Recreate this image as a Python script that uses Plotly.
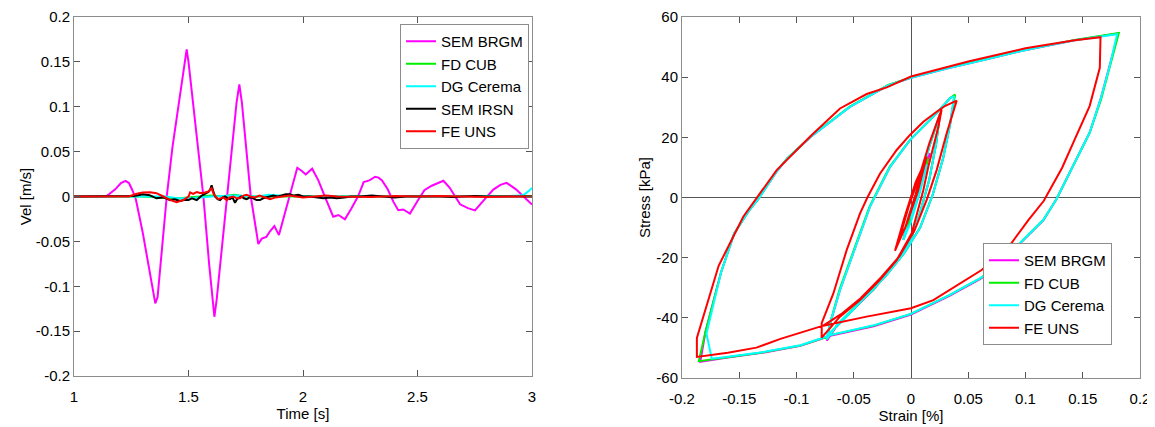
import plotly.graph_objects as go

# ---------------- Left panel: velocity time histories ----------------
T_BRGM = [1.0, 1.14, 1.18, 1.205, 1.225, 1.24, 1.255, 1.27, 1.30, 1.33, 1.355, 1.365, 1.38, 1.405, 1.43, 1.46,
          1.492, 1.50, 1.53, 1.565, 1.59, 1.613, 1.623, 1.667, 1.71, 1.722, 1.733, 1.772, 1.805, 1.82, 1.84,
          1.855, 1.875, 1.895, 1.92, 1.958, 1.975, 1.995, 2.012, 2.04, 2.067, 2.10, 2.132, 2.155, 2.183, 2.21,
          2.24, 2.265, 2.29, 2.315, 2.33, 2.345, 2.37, 2.395, 2.416, 2.438, 2.467, 2.50, 2.53, 2.562, 2.59,
          2.613, 2.64, 2.686, 2.72, 2.751, 2.79, 2.831, 2.862, 2.889, 2.93, 2.975, 3.0]
V_BRGM = [0, 0, 0.008, 0.015, 0.0175, 0.015, 0.007, -0.003, -0.04, -0.085, -0.119, -0.112, -0.07, 0.0, 0.055, 0.107,
          0.164, 0.15, 0.08, 0.0, -0.075, -0.134, -0.115, 0.0, 0.105, 0.125, 0.105, 0.0, -0.053, -0.047, -0.045,
          -0.039, -0.033, -0.043, -0.02, 0.018, 0.032, 0.0285, 0.0245, 0.031, 0.018, -0.003, -0.0225, -0.0206, -0.0254, -0.014,
          0.0, 0.016, 0.018, 0.022, 0.021, 0.018, 0.008, -0.006, -0.0153, -0.0145, -0.019, -0.005, 0.007, 0.012, 0.0155,
          0.0175, 0.01, -0.0087, -0.013, -0.0155, -0.004, 0.0077, 0.013, 0.0152, 0.008, -0.003, -0.009]

T_CUB = [1.0, 1.3, 1.38, 1.42, 1.46, 1.5, 1.55, 1.6, 1.65, 1.7, 1.72, 1.75, 1.8, 2.0, 2.5, 3.0]
V_CUB = [0, 0, -0.001, -0.002, -0.002, -0.001, 0, 0.001, 0, 0.002, 0.001, 0, 0, 0, 0, 0.0005]

T_CEREMA = [1.0, 1.4, 1.45, 1.5, 1.55, 1.6, 1.7, 1.8, 1.85, 1.9, 2.0, 2.5, 2.9, 2.95, 2.97, 2.985, 3.0]
V_CEREMA = [0, 0, -0.002, -0.002, -0.001, 0, 0.001, 0, 0.002, 0.001, 0, 0, 0.0005, 0.001, 0.003, 0.006, 0.0095]

T_IRSN = [1.0, 1.20, 1.26, 1.28, 1.30, 1.33, 1.36, 1.39, 1.42, 1.44, 1.463, 1.48, 1.50, 1.515, 1.536, 1.558,
          1.575, 1.587, 1.595, 1.601, 1.608, 1.616, 1.627, 1.638, 1.65, 1.66, 1.671, 1.681, 1.692, 1.703, 1.712,
          1.718, 1.73, 1.742, 1.754, 1.768, 1.783, 1.797, 1.812, 1.826, 1.841, 1.856, 1.870, 1.89, 1.91, 1.925,
          1.943, 1.96, 1.98, 2.0, 2.03, 2.06, 2.089, 2.12, 2.147, 2.18, 2.21, 2.25, 2.3, 2.35, 2.4, 2.45, 2.5,
          2.55, 2.6, 2.65, 2.7, 2.75, 2.8, 2.85, 2.9, 2.95, 3.0]
V_IRSN = [0, 0, 0.0005, 0.0015, 0.0026, 0.0015, -0.002, -0.001, -0.004, -0.003, -0.005, -0.004, -0.004, -0.002, -0.004, 0.001,
          0.003, 0.005, 0.008, 0.0125, 0.006, 0.0, -0.003, -0.004, -0.001, 0.0, -0.002, -0.003, -0.001, -0.007, -0.003,
          -0.002, 0.0, -0.002, -0.003, -0.001, -0.002, -0.004, -0.004, -0.002, -0.001, 0.0, 0.001, 0.0, 0.001, 0.0025,
          0.0025, 0.001, 0.002, 0.0, 0.0, -0.001, -0.002, -0.001, -0.002, -0.001, 0.0, 0.0, 0.001, 0.0, -0.001, 0.0, 0.0,
          0.0005, 0.0, -0.0005, 0.0, 0.0005, 0.0, 0.0, 0.0005, 0.0, 0.0]

T_UNS = [1.0, 1.24, 1.274, 1.30, 1.332, 1.36, 1.39, 1.419, 1.448, 1.477, 1.50, 1.507, 1.52, 1.536, 1.55,
         1.565, 1.587, 1.601, 1.611, 1.63, 1.652, 1.667, 1.68, 1.696, 1.71, 1.725, 1.74, 1.754, 1.77, 1.79,
         1.81, 1.83, 1.856, 1.88, 1.91, 1.94, 1.97, 2.0, 2.05, 2.1, 2.15, 2.2, 2.3, 2.4, 2.5, 2.6, 2.7, 2.8, 2.9, 3.0]
V_UNS = [0, 0, 0.003, 0.0045, 0.0048, 0.0037, 0.0, -0.0037, -0.0063, -0.004, 0.0, 0.0045, 0.003, 0.005, 0.004,
         0.004, 0.0055, 0.009, 0.002, -0.003, -0.001, -0.004, -0.001, 0.0, -0.002, -0.002, 0.001, 0.002, 0.0, -0.001,
         0.001, -0.001, -0.003, -0.001, 0.0, 0.001, 0.0, -0.001, 0.0, 0.001, 0.0, 0.0, -0.0005, 0.0005, 0.0, 0.0005,
         0.0, -0.0005, 0.0, 0.0]

# ---------------- Right panel: stress-strain loops ----------------
E_BRGM = [0, 0.008, 0.0166, 0.008, 0.0, -0.0067, -0.002, 0.006, 0.012, 0.006, 0.0, 0.008, 0.016, 0.025,
          0.022, 0.016, 0.008, 0.0, -0.0134, -0.0326, -0.0518, -0.064, -0.0735,
          -0.0705, -0.062, -0.0504, -0.0358, -0.0183, -0.0009, 0.0195, 0.034, 0.038,
          0.034, 0.028, 0.019, 0.008, -0.006, -0.022, -0.042, -0.06, -0.0735,
          -0.05, -0.0326, 0.0, 0.034, 0.0603, 0.0777, 0.095, 0.1155, 0.127, 0.143, 0.156, 0.1655, 0.1735, 0.181,
          0.143, 0.114, 0.0952, 0.0633, 0.0313, 0.0, -0.0198, -0.0534, -0.0865, -0.108, -0.117, -0.133, -0.142,
          -0.1545, -0.166, -0.1796, -0.184,
          -0.16, -0.128, -0.0965, -0.0735]
S_BRGM = [0, 7, 14.7, 4, -6, -14.1, -7, 3, 9, 0, -7, 6, 17, 27.5,
          18, 6, -5, -13.8, -21.6, -30.6, -37.7, -42.2, -47.6,
          -41.8, -30.7, -18.6, -3, 10.2, 19.1, 26.9, 33, 33.9,
          24, 13, 1, -10, -18.5, -26, -34, -41, -46.2,
          -44.3, -42.8, -38.9, -32.6, -27.1, -22.6, -15.4, -7.6, -0.6, 11.6, 21.5, 32.6, 43.6, 54.5,
          52.3, 50.1, 48.6, 45.7, 42.9, 39.8, 37.3, 30.1, 20.5, 13, 8.8, -0.3, -4.6,
          -12, -25, -44.8, -54.6,
          -53.2, -51.5, -49.3, -46.4]

E_CUB = [0, 0.008, 0.015, 0.008, 0.0, -0.0067, -0.002, 0.006, 0.012, 0.006, 0.0, 0.008, 0.016, 0.0255,
         0.022, 0.016, 0.008, 0.0, -0.0134, -0.0326, -0.0518, -0.064, -0.0737,
         -0.0707, -0.0625, -0.051, -0.0362, -0.0186, -0.001, 0.0195, 0.034, 0.0385,
         0.034, 0.028, 0.019, 0.008, -0.006, -0.022, -0.042, -0.06, -0.0737,
         -0.05, -0.0326, 0.0, 0.034, 0.0603, 0.0777, 0.095, 0.1155, 0.127, 0.143, 0.156, 0.166, 0.174, 0.1815,
         0.143, 0.114, 0.0952, 0.0633, 0.0313, 0.0, -0.0198, -0.0534, -0.0865, -0.108, -0.117, -0.133, -0.142,
         -0.1545, -0.166, -0.1796, -0.1853,
         -0.16, -0.128, -0.0965, -0.0737]
S_CUB = [0, 6, 13, 3, -7, -14, -7, 3, 9, 0, -7, 6, 17, 27.8,
         18, 6, -5, -13.8, -21.5, -30.5, -37.4, -42.1, -47.2,
         -41.8, -30.7, -18.6, -3, 10.2, 19.1, 26.9, 33, 34.2,
         24, 13, 1, -10, -18.5, -26, -34, -41, -46,
         -44.1, -42.6, -38.7, -32.4, -26.9, -22.4, -15.2, -7.5, -0.6, 11.6, 21.5, 32.6, 43.6, 54.7,
         52.4, 50.2, 48.7, 45.8, 43, 39.9, 37.4, 30.2, 20.6, 13.1, 8.9, -0.3, -4.6,
         -12, -25, -44.8, -54.4,
         -53.1, -51.4, -49.2, -46.3]

E_CEREMA = [0, 0.007, 0.014, 0.008, 0.0, -0.0067, -0.002, 0.006, 0.012, 0.006, 0.0, 0.008, 0.016, 0.025,
            0.022, 0.016, 0.008, 0.0, -0.0134, -0.0326, -0.0518, -0.064, -0.0737,
            -0.0707, -0.062, -0.0504, -0.0358, -0.0183, -0.0009, 0.0195, 0.034, 0.0376,
            0.034, 0.028, 0.019, 0.008, -0.006, -0.022, -0.042, -0.06, -0.0737,
            -0.05, -0.0326, 0.0, 0.034, 0.0603, 0.0777, 0.095, 0.1155, 0.127, 0.143, 0.156, 0.1655, 0.1735, 0.18,
            0.143, 0.114, 0.0952, 0.0633, 0.0313, 0.0, -0.0198, -0.0534, -0.0865, -0.108, -0.117, -0.133, -0.142,
            -0.1545, -0.166, -0.1786, -0.174,
            -0.16, -0.128, -0.0965, -0.0737]
S_CEREMA = [0, 5, 11, 2, -8, -14.1, -6, 3, 9, 0, -7, 6, 17, 27.5,
            18, 6, -5, -13.8, -21.5, -30.4, -37.5, -42, -47.2,
            -41.8, -30.7, -18.6, -3, 10.2, 19.1, 26.9, 33, 33.7,
            24, 13, 1, -10, -18.5, -26, -34, -41, -46,
            -44, -42.5, -38.7, -32.4, -26.9, -22.4, -15.2, -7.5, -0.6, 11.6, 21.5, 32.6, 43.6, 54.3,
            52.3, 50.1, 48.6, 45.7, 42.9, 39.8, 37.3, 30.1, 20.5, 13, 8.8, -0.3, -4.6,
            -12, -25, -45.3, -53.6,
            -52.9, -51.3, -49.1, -46.2]

E_UNS = [0, 0.006, 0.0137, 0.006, -0.004, -0.014, -0.006, 0.004, 0.010, 0.004, -0.005, -0.010, -0.002, 0.008,
         0.016, 0.0268,
         0.0239, 0.0195, 0.0151, 0.0108, 0.0006, -0.0125, -0.0271, -0.0445, -0.062, -0.078,
         -0.078, -0.0678, -0.0562, -0.0445, -0.0381, -0.027, -0.0125, -0.0009, 0.0108, 0.0224, 0.030, 0.0399,
         0.0311, 0.0224, 0.0137, 0.003, -0.010, -0.026, -0.044, -0.060, -0.0766,
         -0.0387, 0.0, 0.0195, 0.0486, 0.0617, 0.0865, 0.1025, 0.116, 0.132, 0.143, 0.156, 0.1649, 0.1655,
         0.143, 0.1, 0.05, 0.0079, 0.0, -0.0212, -0.0387, -0.062, -0.0867, -0.1173, -0.1348, -0.1465, -0.168,
         -0.187, -0.187,
         -0.160, -0.135, -0.114, -0.0766]
S_UNS = [0, 6, 13.6, 2, -9, -17.7, -7, 5, 10, 1, -10, -13.5, -3, 8,
         18, 29.3,
         23.5, 16.9, 10.2, 2.5, -11.9, -20.8, -27.4, -34.1, -39.6, -46.6,
         -41.8, -31.9, -17.5, -5.3, 0, 8, 15.8, 20.8, 25.2, 28.5, 30.5, 32.2,
         21.3, 9.1, -0.8, -11, -19.5, -26.5, -33.5, -38.5, -42.6,
         -39.6, -36.8, -34.1, -27.4, -24.1, -15.8, -7.5, -1.1, 9.9, 19.3, 30.4, 43.1, 53.3,
         52.3, 49.6, 45.2, 41, 40.2, 36.6, 34.4, 29.6, 20.8, 9.1, -0.3, -6.4, -22.7,
         -46.7, -53,
         -51.6, -49.9, -47, -42.6]

# tick labels
LEFT_X_TICKS = [1, 1.5, 2, 2.5, 3]
LEFT_X_LABELS = ["1", "1.5", "2", "2.5", "3"]
LEFT_Y_TICKS = [-0.2, -0.15, -0.1, -0.05, 0, 0.05, 0.1, 0.15, 0.2]
LEFT_Y_LABELS = ["-0.2", "-0.15", "-0.1", "-0.05", "0", "0.05", "0.1", "0.15", "0.2"]
RIGHT_X_TICKS = [-0.2, -0.15, -0.1, -0.05, 0, 0.05, 0.1, 0.15, 0.2]
RIGHT_X_LABELS = ["-0.2", "-0.15", "-0.1", "-0.05", "0", "0.05", "0.1", "0.15", "0.2"]
RIGHT_Y_TICKS = [-60, -40, -20, 0, 20, 40, 60]
RIGHT_Y_LABELS = ["-60", "-40", "-20", "0", "20", "40", "60"]

MAGENTA, GREEN, CYAN, BLACK, RED = "#ff00ff", "#00ee00", "#00ffff", "#000000", "#ff0000"
FONT = "Liberation Sans, Arial, Helvetica, sans-serif"
LW = 2

fig = go.Figure()
left = [("SEM BRGM", T_BRGM, V_BRGM, MAGENTA), ("FD CUB", T_CUB, V_CUB, GREEN),
        ("DG Cerema", T_CEREMA, V_CEREMA, CYAN), ("SEM IRSN", T_IRSN, V_IRSN, BLACK),
        ("FE UNS", T_UNS, V_UNS, RED)]
for name, xs, ys, c in left:
    fig.add_trace(go.Scatter(x=xs, y=ys, mode="lines", name=name, line=dict(color=c, width=LW),
                             xaxis="x", yaxis="y", legend="legend"))
right = [("SEM BRGM", E_BRGM, S_BRGM, MAGENTA), ("FD CUB", E_CUB, S_CUB, GREEN),
         ("DG Cerema", E_CEREMA, S_CEREMA, CYAN), ("FE UNS", E_UNS, S_UNS, RED)]
for name, xs, ys, c in right:
    fig.add_trace(go.Scatter(x=xs, y=ys, mode="lines", name=name, line=dict(color=c, width=LW),
                             xaxis="x2", yaxis="y2", legend="legend2"))

# page body has an 8px margin: figure sized to fit the window, positions given in window pixels
OFF = 8
W, H = 1155 - OFF, 427 - OFF
def px_x(p): return (p - OFF) / W
def px_y(p): return 1 - (p - OFF) / H

axis_common = dict(showline=True, linecolor="#8c8c8c", linewidth=1, mirror="ticks", ticks="inside",
                   ticklen=6, tickcolor="#555555", tickwidth=1, showgrid=False,
                   tickfont=dict(family=FONT, size=15, color="black"),
                   title_font=dict(family=FONT, size=15, color="black"))

fig.update_layout(
    width=W, height=H, margin=dict(l=0, r=0, t=0, b=0, autoexpand=False),
    paper_bgcolor="white", plot_bgcolor="white", font=dict(family=FONT, size=15, color="black"),
    xaxis=dict(domain=[px_x(74), px_x(532)], range=[1, 3], tickvals=LEFT_X_TICKS, ticktext=LEFT_X_LABELS,
               zeroline=False, ticklabelstandoff=7, automargin=False,
               title=dict(text="Time [s]", standoff=0), anchor="y", **axis_common),
    yaxis=dict(domain=[px_y(376), px_y(17)], range=[-0.2, 0.2], tickvals=LEFT_Y_TICKS, ticktext=LEFT_Y_LABELS,
               zeroline=False, automargin=True,
               title=dict(text="Vel [m/s]", standoff=0), anchor="x", **axis_common),
    xaxis2=dict(domain=[px_x(682), px_x(1140)], range=[-0.2, 0.2], tickvals=RIGHT_X_TICKS, ticktext=RIGHT_X_LABELS,
                zeroline=True, zerolinecolor="#555555", zerolinewidth=1, ticklabelstandoff=7, automargin=False,
                title=dict(text="Strain [%]", standoff=0), anchor="y2", **axis_common),
    yaxis2=dict(domain=[px_y(378), px_y(17)], range=[-60, 60], tickvals=RIGHT_Y_TICKS, ticktext=RIGHT_Y_LABELS,
                zeroline=True, zerolinecolor="#555555", zerolinewidth=1, automargin=True,
                title=dict(text="Stress [kPa]", standoff=2), anchor="x2", **axis_common),
    legend=dict(x=px_x(400), y=px_y(24), xanchor="left", yanchor="top", bgcolor="white",
                bordercolor="#8c8c8c", borderwidth=1, font=dict(family=FONT, size=15, color="black"),
                itemwidth=30, tracegroupgap=0),
    legend2=dict(x=px_x(983), y=px_y(243), xanchor="left", yanchor="top", bgcolor="white",
                 bordercolor="#8c8c8c", borderwidth=1, font=dict(family=FONT, size=15, color="black"),
                 itemwidth=30, tracegroupgap=0),
    showlegend=True,
)

fig.write_html("out.html")
